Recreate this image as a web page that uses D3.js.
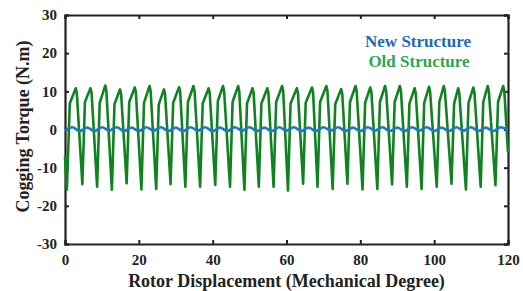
<!DOCTYPE html>
<html><head><meta charset="utf-8">
<script src="https://cdn.jsdelivr.net/npm/d3@7"></script>
<style>
html,body{margin:0;padding:0;background:#fff;}
svg{display:block;}
text{font-family:"Liberation Serif","Times New Roman",serif;font-weight:bold;}
</style></head>
<body>
<svg id="chart" width="523" height="291"></svg>
<script>
// ---- data ----
const xTicks = [0, 20, 40, 60, 80, 100, 120];
const yTicks = [-30, -20, -10, 0, 10, 20, 30];
const xLabel = "Rotor Displacement (Mechanical Degree)";
const yLabel = "Cogging Torque (N.m)";
const seriesNames = ["New Structure", "Old Structure"];

// Old structure: rotor angle (deg) and cogging torque (N.m)
const oldDeg = [0,
  0.5,1.3,2.9,3.2, 4.7,5.4,6.9,7.2, 8.7,9.4,10.9,11.2, 12.7,13.4,14.9,15.2,
  16.7,17.4,18.9,19.2, 20.7,21.4,22.9,23.2, 24.7,25.4,26.8,27.1, 28.6,29.3,30.9,31.2,
  32.6,33.3,34.8,35.1, 36.6,37.3,38.9,39.2, 40.7,41.4,42.8,43.1, 44.7,45.4,46.9,47.2,
  48.6,49.3,50.8,51.1, 52.5,53.2,54.8,55.1, 56.5,57.2,58.8,59.1, 60.4,61.1,62.8,63.1,
  64.5,65.2,66.9,67.2, 68.4,69.1,70.8,71.1, 72.5,73.2,74.8,75.1, 76.5,77.2,78.7,79.0,
  80.6,81.3,82.7,83.0, 84.6,85.3,86.7,87.0, 88.6,89.3,90.7,91.0, 92.6,93.3,94.7,95.0,
  96.6,97.3,98.6,98.9, 100.7,101.4,102.6,102.9, 104.7,105.4,106.5,106.8, 108.6,109.3,110.6,110.9,
  112.6,113.3,114.5,114.8, 116.6,117.3,118.7,119.0, 120];
const oldTorque = [-7,
  -15.8,6.8,10.8,9.6, -14.3,7.2,10.8,9.6, -15.0,7.0,11.5,10.2, -15.8,6.6,10.5,9.3,
  -14.1,7.2,11.0,9.8, -15.7,7.0,11.4,10.1, -15.6,6.6,10.5,9.3, -14.3,7.0,11.1,9.9,
  -15.0,7.2,11.4,10.1, -15.0,6.8,10.8,9.6, -14.5,7.4,11.4,10.1, -15.0,7.2,11.4,10.1,
  -15.8,6.8,10.8,9.6, -15.0,6.8,10.8,9.6, -15.0,7.2,11.4,10.1, -16.0,6.8,10.8,9.6,
  -14.2,7.0,11.0,9.8, -15.0,7.2,11.4,10.1, -15.6,6.6,10.6,9.4, -14.2,7.2,11.4,10.1,
  -15.7,7.0,11.0,9.8, -15.6,7.2,11.4,10.1, -14.4,7.2,11.4,10.1, -15.0,6.8,10.8,9.6,
  -15.6,7.0,11.2,9.9, -15.0,7.2,11.4,10.1, -14.2,6.8,10.8,9.6, -15.7,7.0,11.0,9.8,
  -15.0,7.2,11.4,10.1, -14.6,7.2,11.4,10.1, -6];

// New structure
const newDeg = [0,2,4,6,8,10,12,14,16,18,20,22,24,26,28,30,32,34,36,38,40,42,44,46,48,50,
  52,54,56,58,60,62,64,66,68,70,72,74,76,78,80,82,84,86,88,90,92,94,96,98,100,102,104,106,
  108,110,112,114,116,118,120];
const newTorque = [-0.3,0.6,-0.4,0.5,-0.4,0.6,-0.3,0.6,-0.4,0.5,-0.4,0.6,-0.3,0.6,-0.4,0.5,
  -0.4,0.6,-0.3,0.6,-0.4,0.5,-0.4,0.6,-0.3,0.6,-0.4,0.5,-0.4,0.6,-0.3,0.6,-0.4,0.5,-0.4,0.6,
  -0.3,0.6,-0.4,0.5,-0.4,0.6,-0.3,0.6,-0.4,0.5,-0.4,0.6,-0.3,0.6,-0.4,0.5,-0.4,0.6,-0.3,0.6,
  -0.4,0.5,-0.4,0.6,-0.2];

// ---- chart ----
const W = 523, H = 291;
const m = {left: 65, right: 15, top: 15, bottom: 47};
const svg = d3.select("#chart");
const x = d3.scaleLinear().domain([0, 120]).range([m.left, W - m.right]);
const y = d3.scaleLinear().domain([-30, 30]).range([H - m.bottom, m.top]);

const axisColor = "#222";
const tickLen = 4;
const fmt = d => String(d);

// axes
const gx = svg.append("g").attr("transform", `translate(0,${y(-30)})`)
  .call(d3.axisBottom(x).tickValues(xTicks).tickSize(-tickLen).tickPadding(10).tickFormat(fmt));
const gy = svg.append("g").attr("transform", `translate(${x(0)},0)`)
  .call(d3.axisLeft(y).tickValues(yTicks).tickSize(-tickLen).tickPadding(8).tickFormat(fmt));
const gxt = svg.append("g").attr("transform", `translate(0,${y(30)})`)
  .call(d3.axisTop(x).tickValues(xTicks).tickSize(-tickLen).tickFormat(""));
const gyr = svg.append("g").attr("transform", `translate(${x(120)},0)`)
  .call(d3.axisRight(y).tickValues(yTicks).tickSize(-tickLen).tickFormat(""));

[gx, gy, gxt, gyr].forEach(g => {
  g.select(".domain").attr("stroke", axisColor).attr("stroke-width", 2.2);
  g.selectAll(".tick line").attr("stroke", axisColor).attr("stroke-width", 2);
  g.selectAll(".tick text").attr("fill", "#222").style("font-size", "15px")
    .style("font-family", '"Liberation Serif", serif').style("font-weight", "bold");
});

const line = d3.line().x(d => x(d[0])).y(d => y(d[1]));
const oldData = oldDeg.map((d, i) => [d, oldTorque[i]]);
const newData = newDeg.map((d, i) => [d, newTorque[i]]);

svg.append("path").datum(oldData).attr("d", line)
  .attr("fill", "none").attr("stroke", "#118220").attr("stroke-width", 2.6)
  .attr("stroke-linejoin", "round");
svg.append("path").datum(newData).attr("d", line.curve(d3.curveMonotoneX))
  .attr("fill", "none").attr("stroke", "#1f78c0").attr("stroke-width", 2.6);

// legend
svg.append("text").attr("x", 418).attr("y", 47).attr("text-anchor", "middle")
  .attr("fill", "#2369b0").style("font-size", "17px").text(seriesNames[0]);
svg.append("text").attr("x", 419).attr("y", 67).attr("text-anchor", "middle")
  .attr("fill", "#2ea552").style("font-size", "17px").text(seriesNames[1]);

// axis titles
svg.append("text").attr("x", (x(0) + x(120)) / 2).attr("y", 287).attr("text-anchor", "middle")
  .attr("fill", "#222").style("font-size", "18px").text(xLabel);
svg.append("text").attr("transform", `translate(29,${(y(30)+y(-30))/2 - 3}) rotate(-90)`)
  .attr("text-anchor", "middle").attr("fill", "#222").style("font-size", "18px").text(yLabel);
</script>
</body></html>
